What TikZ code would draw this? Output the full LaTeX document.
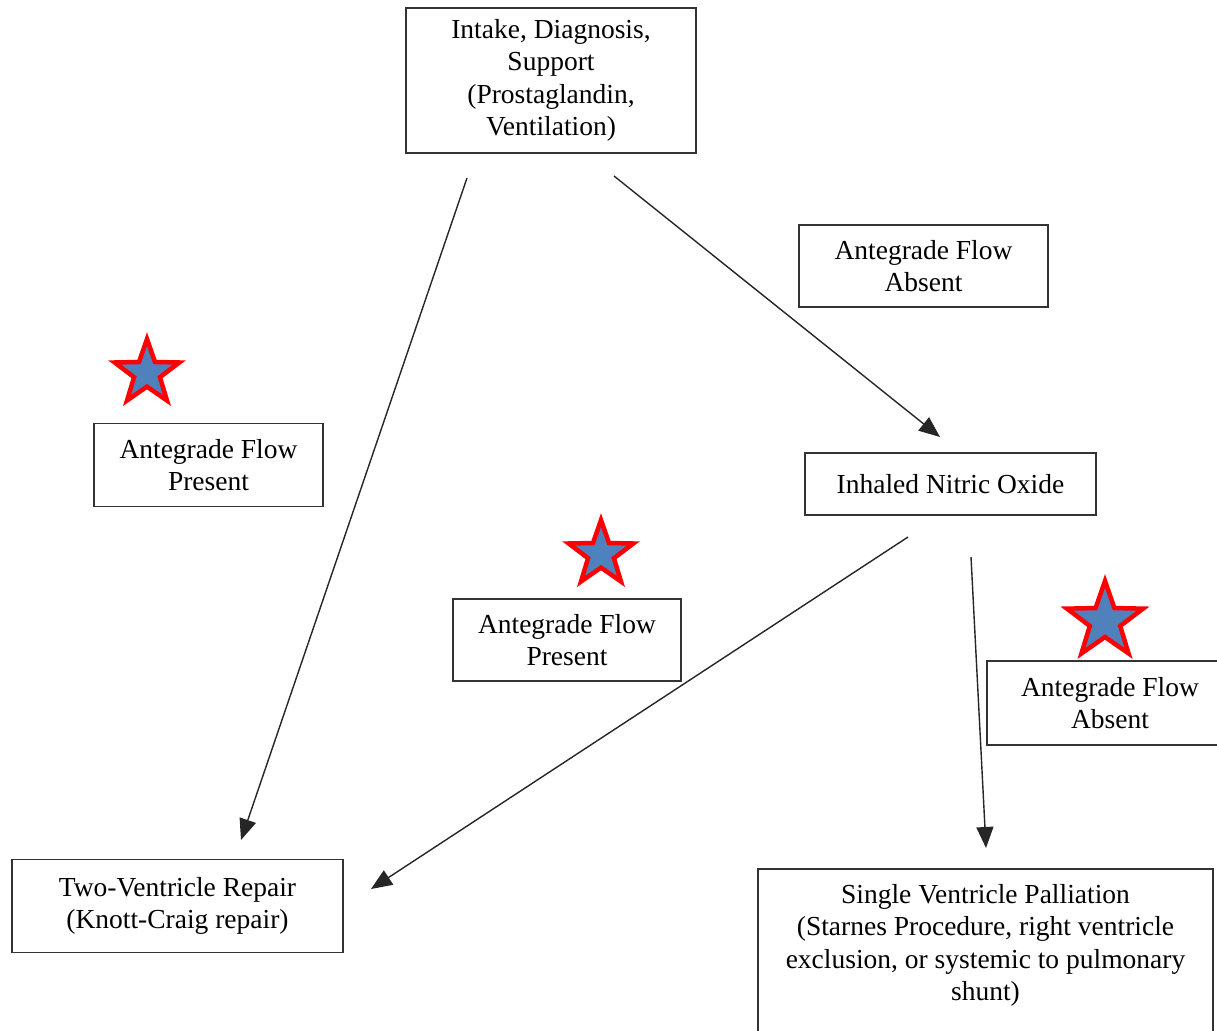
\documentclass[tikz,border=0pt]{standalone}
\usepackage{fontspec}
\setmainfont{Liberation Serif}
\usetikzlibrary{arrows.meta,shapes.geometric}
\definecolor{starblue}{RGB}{79,129,189}
\begin{document}
\begin{tikzpicture}[x=1pt,y=-1pt,
  txt/.style={align=center, font=\fontsize{27.5}{32.5}\selectfont, inner sep=0pt},
  box/.style={txt, draw=black!80, line width=1.6pt, fill=white},
  flow/.style={line width=1.4pt, draw=black!85, -{Triangle[length=21pt,width=17pt]}},
  mystar/.style={star, star points=5, star point ratio=2.5, draw=red, fill=starblue,
                 line width=4.5pt, inner sep=0pt, outer sep=0pt}]
\useasboundingbox (0,0) rectangle (1217,1030);
\clip (0,0) rectangle (1217,1030);
\fill[white] (0,0) rectangle (1217,1030);

% boxes
\node[box, minimum width=290pt, minimum height=145pt] (intake) at (551,80.5)
  {Intake, Diagnosis,\\Support\\(Prostaglandin,\\Ventilation)};
\node[box, minimum width=249pt, minimum height=82pt] (absent1) at (923.5,266)
  {Antegrade Flow\\Absent};
\node[box, minimum width=229pt, minimum height=83pt] (present1) at (208.5,465)
  {Antegrade Flow\\Present};
\node[box, minimum width=228pt, minimum height=82pt] (present2) at (567,640)
  {Antegrade Flow\\Present};
\node[box, minimum width=291pt, minimum height=62pt] (ino) at (950.5,484)
  {Inhaled Nitric Oxide};
\node[box, minimum width=246pt, minimum height=84pt] (absent2) at (1110,703)
  {Antegrade Flow\\Absent};
\node[box, minimum width=331pt, minimum height=93pt] (two) at (177.5,906)
  {Two-Ventricle Repair\\(Knott-Craig repair)};
\node[box, minimum width=455pt, minimum height=200pt, anchor=north] (single) at (985.5,868) {};
\node[txt, anchor=north] (singletext) at ([yshift=-16pt]single.north)
  {Single Ventricle Palliation\\(Starnes Procedure, right ventricle\\exclusion, or systemic to pulmonary\\shunt)};

% stars
\node[mystar, minimum size=68pt] (star1) at (147,373) {};
\node[mystar, minimum size=68pt] (star2) at (601,554) {};
\node[mystar, minimum size=80pt] (star3) at (1105,621) {};

% connector ends
\coordinate (s1) at (467,178);
\coordinate (e1) at (241,840);
\coordinate (s2) at (614,176);
\coordinate (e2) at (940,437);
\coordinate (s3) at (908,537);
\coordinate (e3) at (371,889);
\coordinate (s4) at (971,557);
\coordinate (e4) at (986,848);

\draw[flow] (s1) -- (e1);
\draw[flow] (s2) -- (e2);
\draw[flow] (s3) -- (e3);
\draw[flow] (s4) -- (e4);
\end{tikzpicture}
\end{document}
